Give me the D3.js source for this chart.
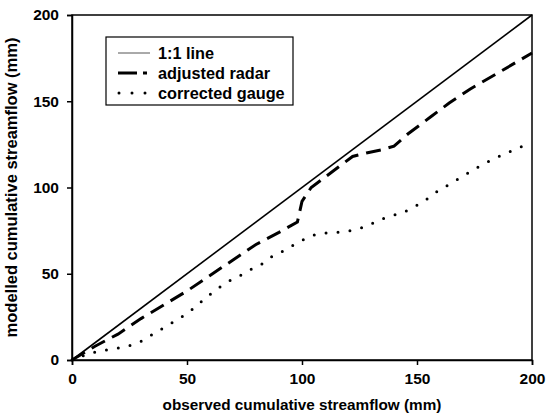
<!DOCTYPE html>
<html>
<head>
<meta charset="utf-8">
<script src="https://cdn.jsdelivr.net/npm/d3@7"></script>
<style>
  body { margin: 0; background: #fff; }
  text { font-family: "Liberation Sans", Arial, sans-serif; font-weight: bold; fill: #000; }
</style>
</head>
<body>
<div id="chart"></div>
<script>
// observed (x) vs modelled (y) cumulative streamflow, mm
const lineOneToOne = [[0, 0], [200, 200]];

const adjustedRadar = [
  [0, 0], [10, 8], [20, 15], [30, 24], [40, 32], [50, 40], [60, 49], [70, 58],
  [80, 67], [90, 74], [98, 80], [100, 92], [104, 100], [110, 106], [116, 112],
  [122, 118], [128, 120], [135, 122], [140, 124], [146, 131], [156, 141],
  [164, 149], [173, 157], [186, 167], [200, 178]
];

const correctedGauge = [
  [0, 0], [6, 3], [11, 5], [18, 6.5], [23, 7.5], [29, 10], [34, 14], [39, 18],
  [44, 22], [49, 26], [54, 31], [58, 36], [63, 41], [67, 45], [72, 48], [77, 52],
  [83, 56], [87, 60], [93, 64], [98, 68], [104, 72], [109, 73.5], [115, 74],
  [121, 75], [127, 77], [132, 80], [137, 83], [143, 85], [148, 88], [154, 93],
  [158, 97], [163, 101], [168, 105], [173, 109], [178, 113], [184, 117],
  [189, 120], [194, 123], [200, 126]
];

const xTicks = [0, 50, 100, 150, 200];
const yTicks = [0, 50, 100, 150, 200];
const legendLabels = ["1:1 line", "adjusted radar", "corrected gauge"];

const margin = { top: 15, right: 15, bottom: 57, left: 72 },
    width = 547 - margin.left - margin.right,
    height = 417 - margin.top - margin.bottom;

const svg = d3.select("#chart").append("svg")
    .attr("width", 547)
    .attr("height", 417);

const g = svg.append("g")
    .attr("transform", "translate(" + margin.left + "," + margin.top + ")");

const x = d3.scaleLinear().domain([0, 200]).range([0, width]);
const y = d3.scaleLinear().domain([0, 200]).range([height, 0]);

const line = d3.line()
    .x(d => x(d[0]))
    .y(d => y(d[1]));

// series
g.append("path")
    .datum(lineOneToOne)
    .attr("d", line)
    .attr("fill", "none")
    .attr("stroke", "#000")
    .attr("stroke-width", 1.6);

g.append("path")
    .datum(adjustedRadar)
    .attr("d", line)
    .attr("fill", "none")
    .attr("stroke", "#000")
    .attr("stroke-width", 3)
    .attr("stroke-dasharray", "15,8");

g.append("path")
    .datum(correctedGauge)
    .attr("d", line)
    .attr("fill", "none")
    .attr("stroke", "#000")
    .attr("stroke-width", 3)
    .attr("stroke-linecap", "round")
    .attr("stroke-dasharray", "0,12");

// frame
g.append("rect")
    .attr("width", width)
    .attr("height", height)
    .attr("fill", "none")
    .attr("stroke", "#000")
    .attr("stroke-width", 1.5);

// axes
const xAxis = g.append("g")
    .attr("transform", "translate(0," + height + ")")
    .call(d3.axisBottom(x).tickValues(xTicks).tickSize(5).tickPadding(8));
const yAxis = g.append("g")
    .call(d3.axisLeft(y).tickValues(yTicks).tickSize(5).tickPadding(8));

[xAxis, yAxis].forEach(a => {
    a.select(".domain").attr("stroke-width", 1.5);
    a.selectAll(".tick line").attr("stroke-width", 1.5);
    a.selectAll("text").attr("font-size", 15.5).attr("font-family", null);
});

// axis titles
g.append("text")
    .attr("x", width / 2)
    .attr("y", height + 50)
    .attr("text-anchor", "middle")
    .attr("font-size", 15.3)
    .text("observed cumulative streamflow (mm)");

g.append("text")
    .attr("transform", "translate(" + (-55) + "," + (height / 2) + ") rotate(-90)")
    .attr("text-anchor", "middle")
    .attr("font-size", 16.5)
    .text("modelled cumulative streamflow (mm)");

// legend
const legend = svg.append("g").attr("transform", "translate(106,37)");
legend.append("rect")
    .attr("width", 187)
    .attr("height", 68)
    .attr("fill", "#fff")
    .attr("stroke", "#000")
    .attr("stroke-width", 1.2);

const styles = [
    { w: 1, dash: null, cap: "butt", color: "#555" },
    { w: 3, dash: "19,6,4,100", cap: "butt", color: "#000" },
    { w: 3, dash: "0,13", cap: "round", color: "#000" }
];

legendLabels.forEach((lab, i) => {
    const row = legend.append("g").attr("transform", "translate(0," + (16 + i * 20) + ")");
    const s = styles[i];
    row.append("line")
        .attr("x1", i === 2 ? 13 : 12).attr("x2", i === 2 ? 41 : 44)
        .attr("y1", 0).attr("y2", 0)
        .attr("stroke", s.color)
        .attr("stroke-width", s.w)
        .attr("stroke-linecap", s.cap)
        .attr("stroke-dasharray", s.dash);
    row.append("text")
        .attr("x", 52)
        .attr("y", 5.5)
        .attr("font-size", 16.3)
        .text(lab);
});
</script>
</body>
</html>
